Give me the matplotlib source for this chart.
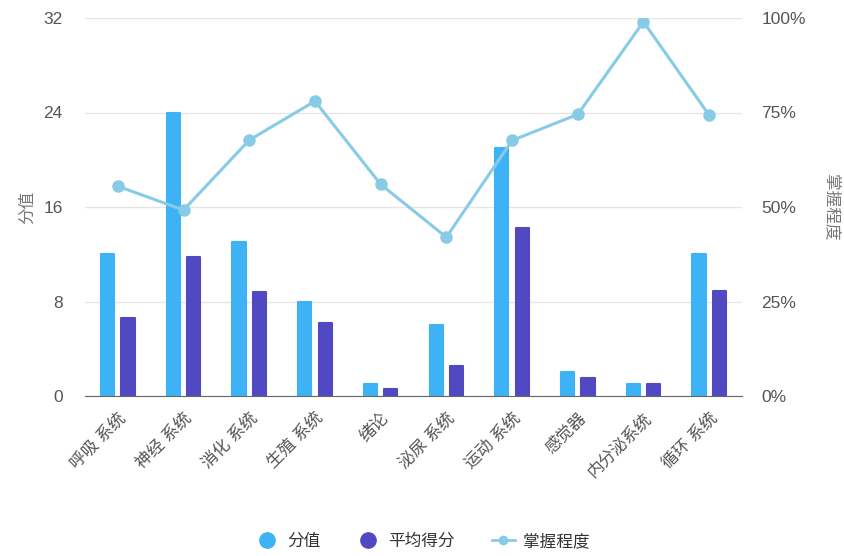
import matplotlib.pyplot as plt
import numpy as np
from matplotlib.lines import Line2D

plt.rcParams['font.family'] = ['Liberation Sans', 'Noto Sans CJK SC', 'DejaVu Sans']

# Data
systems = ["呼吸系统", "神经系统", "消化系统", "生殖系统", "绪论",
           "泌尿系统", "运动系统", "感觉器", "内分泌系统", "循环系统"]
tick_labels = ["呼吸 系统", "神经 系统", "消化 系统", "生殖 系统", "绪论",
               "泌尿 系统", "运动 系统", "感觉器", "内分泌系统", "循环 系统"]
score = [12, 24, 13, 8, 1, 6, 21, 2, 1, 12]
avg_score = [6.6, 11.8, 8.8, 6.2, 0.56, 2.5, 14.2, 1.5, 1, 8.9]
mastery = [55.5, 49.2, 67.7, 78, 56, 42, 67.6, 74.5, 99, 74.3]

c_score = '#3db3f6'
c_avg = '#5049c2'
c_line = '#88cbe6'
c_text = '#555555'

x = np.arange(len(systems))
bar_w = 0.20
off = 0.155

fig = plt.figure(figsize=(8.45, 5.56), dpi=100)
ax = fig.add_axes([85 / 845, 1 - 396 / 556, 657 / 845, 378 / 556])
ax2 = ax.twinx()

# thin same-colour edge with round joins gives the soft bar corners
ax.bar(x - off, score, bar_w, color=c_score, edgecolor=c_score, lw=1.5,
       joinstyle='round', zorder=2)
ax.bar(x + off, avg_score, bar_w, color=c_avg, edgecolor=c_avg, lw=1.5,
       joinstyle='round', zorder=2)
ax2.plot(x, mastery, color=c_line, lw=2.2, marker='o', ms=8, zorder=3)

ax.set_xlim(-0.5, len(systems) - 0.5)
ax.set_ylim(0, 32)
ax.set_yticks([0, 8, 16, 24, 32])
ax2.set_ylim(0, 100)
ax2.set_yticks([0, 25, 50, 75, 100])
ax2.set_yticklabels([f'{v}%' for v in [0, 25, 50, 75, 100]])

ax.grid(axis='y', color='#e6e6e6', lw=1, zorder=0)
ax.set_axisbelow(True)
for a in (ax, ax2):
    for s in ('top', 'left', 'right'):
        a.spines[s].set_visible(False)
    a.tick_params(length=0, labelsize=12.5, labelcolor=c_text)
ax.spines['bottom'].set_visible(True)
ax.spines['bottom'].set_color('#666666')
ax.spines['bottom'].set_zorder(4)
ax2.spines['bottom'].set_visible(False)
ax.tick_params(axis='y', pad=16)
ax2.tick_params(axis='y', pad=14)

ax.set_xticks(x)
ax.set_xticklabels(tick_labels, rotation=45, ha='right', rotation_mode='anchor',
                   fontsize=12, color=c_text)
ax.tick_params(axis='x', pad=10)

ax.set_ylabel('分值', color='#777777', fontsize=12, labelpad=6)
ax2.set_ylabel('掌握程度', color='#777777', fontsize=12, rotation=270, labelpad=24)

handles = [
    Line2D([], [], marker='o', ls='none', color=c_score, ms=11),
    Line2D([], [], marker='o', ls='none', color=c_avg, ms=11),
    Line2D([], [], marker='o', color=c_line, lw=2, ms=6),
]
fig.legend(handles, ['分值', '平均得分', '掌握程度'], loc='center',
           bbox_to_anchor=(0.5, 1 - 541 / 556), ncol=3, frameon=False,
           fontsize=12, labelcolor='#333333', handlelength=1.4,
           columnspacing=2.2, handletextpad=0.5)

fig.savefig('out.png', dpi=100)
